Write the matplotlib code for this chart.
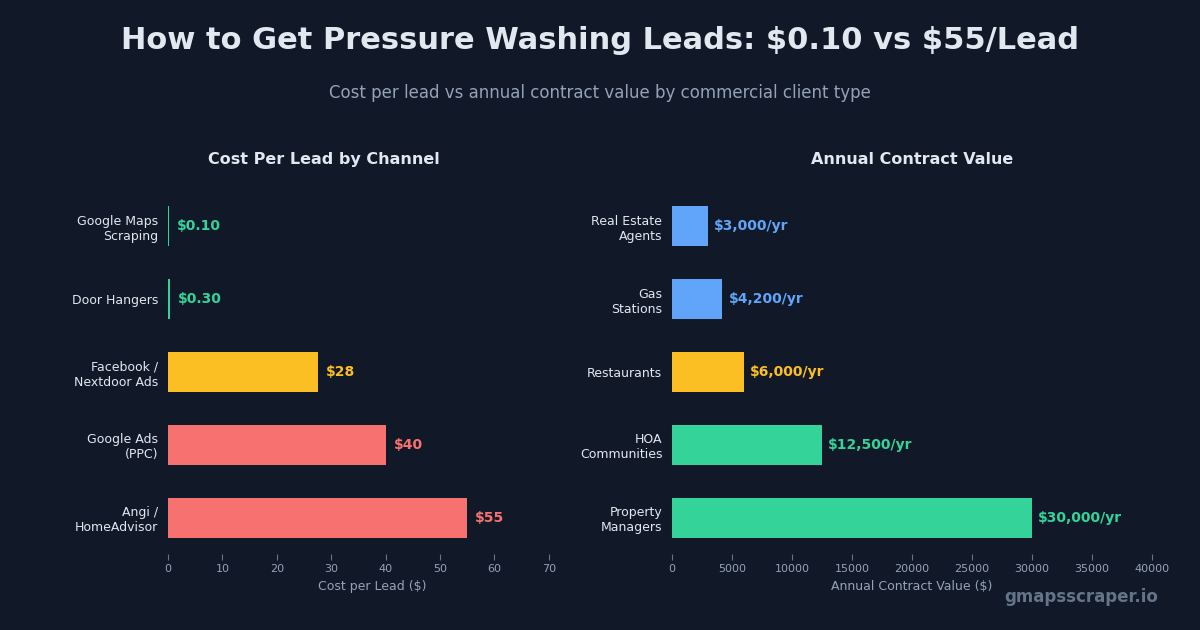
import matplotlib
matplotlib.use("Agg")
import matplotlib.pyplot as plt

# Data
channels = ["Google Maps\nScraping", "Door Hangers", "Facebook /\nNextdoor Ads", "Google Ads\n(PPC)", "Angi /\nHomeAdvisor"]
cost_per_lead = [0.10, 0.30, 27.5, 40, 55]
cost_labels = ["\\$0.10", "\\$0.30", "\\$28", "\\$40", "\\$55"]
cost_colors = ["#34d399", "#34d399", "#fbbf24", "#f87171", "#f87171"]

clients = ["Real Estate\nAgents", "Gas\nStations", "Restaurants", "HOA\nCommunities", "Property\nManagers"]
contract_value = [3000, 4200, 6000, 12500, 30000]
contract_labels = ["\\$3,000/yr", "\\$4,200/yr", "\\$6,000/yr", "\\$12,500/yr", "\\$30,000/yr"]
contract_colors = ["#60a5fa", "#60a5fa", "#fbbf24", "#34d399", "#34d399"]

BG = "#111827"
TEXT = "#e2e8f0"
MUTED = "#94a3b8"

plt.rcParams['font.family'] = ['DejaVu Sans']

fig = plt.figure(figsize=(12, 6.3), dpi=100, facecolor=BG)

fig.text(0.5, 0.935, "How to Get Pressure Washing Leads: \\$0.10 vs \\$55/Lead",
         ha="center", va="center", fontsize=22, fontweight="bold", color=TEXT)
fig.text(0.5, 0.853, "Cost per lead vs annual contract value by commercial client type",
         ha="center", va="center", fontsize=12, color=MUTED)

ax1 = fig.add_axes([0.14, 0.1206, 0.34, 0.5778])
ax2 = fig.add_axes([0.56, 0.1206, 0.40, 0.5778])


def style(ax, title, xlabel, xlim, title_x):
    ax.set_facecolor(BG)
    for s in ax.spines.values():
        s.set_visible(False)
    ax.set_xlim(*xlim)
    ax.set_ylim(4.5, -0.5)
    ax.set_title(title, color=TEXT, fontsize=11.5, fontweight="bold", pad=19, x=title_x)
    ax.set_xlabel(xlabel, color=MUTED, fontsize=9, labelpad=4)
    ax.tick_params(axis="x", colors="#64748b", labelcolor=MUTED, labelsize=8, length=4, width=0.8)
    ax.tick_params(axis="y", length=0, labelcolor=TEXT, labelsize=9, pad=7)


y1 = list(range(len(channels)))
ax1.barh(y1, cost_per_lead, height=0.55, color=cost_colors)
ax1.set_yticks(y1)
ax1.set_yticklabels(channels)
style(ax1, "Cost Per Lead by Channel", "Cost per Lead (\\$)", (0, 75), 0.382)
ax1.set_xticks(range(0, 71, 10))
for yi, v, lab, c in zip(y1, cost_per_lead, cost_labels, cost_colors):
    ax1.text(v + 1.5, yi, lab, va="center", ha="left", color=c, fontsize=10, fontweight="bold")

y2 = list(range(len(clients)))
ax2.barh(y2, contract_value, height=0.55, color=contract_colors)
ax2.set_yticks(y2)
ax2.set_yticklabels(clients)
style(ax2, "Annual Contract Value", "Annual Contract Value (\\$)", (0, 40000), 0.5)
ax2.set_xticks(range(0, 40001, 5000))
for yi, v, lab, c in zip(y2, contract_value, contract_labels, contract_colors):
    ax2.text(v + 500, yi, lab, va="center", ha="left", color=c, fontsize=10, fontweight="bold")

fig.text(0.965, 0.053, "gmapsscraper.io", ha="right", va="center", fontsize=12,
         fontweight="bold", color="#64748b")

fig.savefig("out.png", dpi=100, facecolor=BG)
